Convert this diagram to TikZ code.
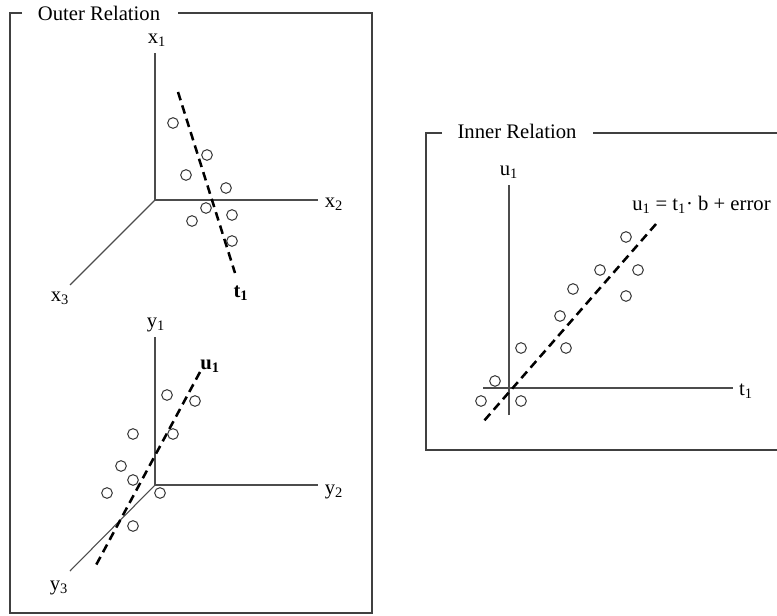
\documentclass[tikz,border=0pt]{standalone}
\usepackage{fontspec}
\setmainfont{Liberation Serif}
\begin{document}
\begin{tikzpicture}[x=0.75pt,y=-0.75pt,
  frame/.style={draw=black!75,line width=1pt},
  axis/.style={draw=black!70,line width=0.8pt},
  fitline/.style={draw=black,line width=1.9pt,dash pattern=on 6.5pt off 4pt},
  pt/.style={circle,draw=black!75,line width=0.8pt,minimum size=8pt,inner sep=0pt},
  lbl/.style={font=\fontsize{15.5}{18}\selectfont,inner sep=0pt}]
\useasboundingbox (0,0) rectangle (777,616);
% frames
\node[lbl] (outer) at (99,13) {Outer Relation};
\node[lbl] (inner) at (517,131) {Inner Relation};
\draw[frame] (22,13) -- (10,13) -- (10,613) -- (372,613) -- (372,13) -- (178,13);
\draw[frame] (442,133) -- (426,133) -- (426,450) -- (780,450);
\draw[frame] (593,133) -- (780,133);
% top 3D axes
\coordinate (o1) at (155,200);
\coordinate (x1e) at (155,53);
\coordinate (x2e) at (318,200);
\coordinate (x3e) at (70,285);
\draw[axis] (o1) -- (x1e);
\draw[axis] (o1) -- (x2e);
\draw[axis] (o1) -- (x3e);
\node[lbl] (x1) at (157,40) {x\textsubscript{1}};
\node[lbl] (x2) at (334,204) {x\textsubscript{2}};
\node[lbl] (x3) at (60,298) {x\textsubscript{3}};
\coordinate (t1a) at (178,92);
\coordinate (t1b) at (235,273);
\draw[fitline] (t1a) -- (t1b);
\node[lbl] (t1) at (241,293) {\textbf{t\textsubscript{1}}};
\foreach \n/\p in {a/{173,123},b/{207,155},c/{186,175},d/{226,188},e/{206,208},f/{232,215},g/{192,221},h/{232,241}}
  \node[pt] (top\n) at (\p) {};
% bottom 3D axes
\coordinate (o2) at (155,485);
\coordinate (y1e) at (155,337);
\coordinate (y2e) at (318,485);
\coordinate (y3e) at (70,571);
\draw[axis] (o2) -- (y1e);
\draw[axis] (o2) -- (y2e);
\draw[axis] (o2) -- (y3e);
\node[lbl] (y1) at (156,325) {y\textsubscript{1}};
\node[lbl] (y2) at (334,492) {y\textsubscript{2}};
\node[lbl] (y3) at (59,588) {y\textsubscript{3}};
\coordinate (u1a) at (200,372);
\coordinate (u1b) at (95,567);
\draw[fitline] (u1a) -- (u1b);
\node[lbl] (u1) at (210,366) {\textbf{u\textsubscript{1}}};
\foreach \n/\p in {a/{167,395},b/{195,401},c/{133,434},d/{173,434},e/{121,466},f/{133,480},g/{107,493},h/{160,493},i/{133,526}}
  \node[pt] (bot\n) at (\p) {};
% inner relation
\coordinate (o3) at (509,388);
\coordinate (u1t) at (509,185);
\coordinate (u1bot) at (509,415);
\coordinate (t1l) at (483,388);
\coordinate (t1r) at (733,388);
\draw[axis] (u1bot) -- (u1t);
\draw[axis] (t1l) -- (t1r);
\node[lbl] (u1lab) at (509,172) {u\textsubscript{1}};
\node[lbl] (t1lab) at (746,391) {t\textsubscript{1}};
\node[lbl,anchor=west] (eq) at (632,205) {u\textsubscript{1} = t\textsubscript{1}· b + error};
\coordinate (ra) at (656,224);
\coordinate (rb) at (483,422);
\draw[fitline] (ra) -- (rb);
\foreach \n/\p in {a/{626,237},b/{600,270},c/{638,270},d/{573,289},e/{626,296},f/{560,316},g/{521,348},h/{566,348},i/{495,381},j/{481,401},k/{521,401}}
  \node[pt] (in\n) at (\p) {};
\end{tikzpicture}
\end{document}
